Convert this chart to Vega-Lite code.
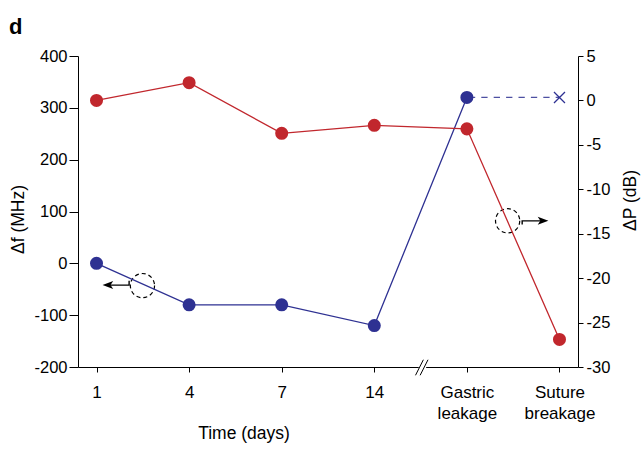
{
  "$schema": "https://vega.github.io/schema/vega-lite/v6.json",
  "width": 500,
  "height": 311,
  "autosize": {"type": "none"},
  "padding": {"left": 78, "top": 56, "right": 66, "bottom": 82},
  "config": {
    "font": "Liberation Sans",
    "view": {"stroke": null},
    "axis": {"grid": false, "domainColor": "#000", "tickColor": "#000", "labelColor": "#000", "titleColor": "#000", "titleFontWeight": "normal", "domainWidth": 1, "tickWidth": 1}
  },
  "title": {"text": "d", "anchor": "start", "frame": "group", "fontSize": 22, "fontWeight": "bold", "color": "#000", "dx": -69, "baseline": "alphabetic", "offset": -8},
  "datasets": {
    "df": [{"x": 0, "v": 0}, {"x": 1, "v": -80}, {"x": 2, "v": -80}, {"x": 3, "v": -120}, {"x": 4, "v": 320}],
    "dfext": [{"x": 4, "v": 320}, {"x": 5, "v": 320}],
    "xmark": [{"x": 5, "v": 320}],
    "dp": [{"x": 0, "v": 0}, {"x": 1, "v": 2}, {"x": 2, "v": -3.7}, {"x": 3, "v": -2.8}, {"x": 4, "v": -3.2}, {"x": 5, "v": -26.9}],
    "circles": [{"x": 0.496, "v": -43}, {"x": 4.44, "v": 82}],
    "arrows": [
      {"g": "a1", "o": 1, "x": 0.352, "v": -33.5}, {"g": "a1", "o": 2, "x": 0.352, "v": -42}, {"g": "a1", "o": 3, "x": 0.12, "v": -42},
      {"g": "a2", "o": 1, "x": 4.597, "v": 75}, {"g": "a2", "o": 2, "x": 4.597, "v": 82}, {"g": "a2", "o": 3, "x": 4.83, "v": 82}
    ],
    "heads": [{"x": 0.065, "v": -42, "dir": "left"}, {"x": 4.88, "v": 82, "dir": "right"}],
    "gap": [{"x": 3.48, "x2": 3.56, "v": -200}],
    "slashes": [{"x": 3.445, "x2": 3.53, "v": -216, "v2": -186}, {"x": 3.495, "x2": 3.58, "v": -216, "v2": -186}]
  },
  "encoding": {
    "x": {
      "field": "x", "type": "quantitative",
      "scale": {"domain": [-0.2, 5.2], "nice": false, "zero": false},
      "axis": {
        "values": [0, 1, 2, 3, 4, 5],
        "labelExpr": "datum.value == 4 ? ['Gastric','leakage'] : datum.value == 5 ? ['Suture','breakage'] : datum.value == 0 ? '1' : datum.value == 1 ? '4' : datum.value == 2 ? '7' : '14'",
        "title": "Time (days)",
        "tickSize": 5, "labelPadding": 12, "labelFontSize": 17, "labelLineHeight": 21,
        "labelOverlap": false, "labelFlush": false, "labelBound": false,
        "titleFontSize": 17.5, "titleX": 165.5, "titleY": 71, "titleBaseline": "alphabetic", "titleAlign": "center"
      }
    }
  },
  "layer": [
    {
      "layer": [
        {
          "data": {"name": "circles"},
          "mark": {"type": "point", "shape": "circle", "filled": false, "stroke": "#000", "strokeWidth": 1.2, "strokeDash": [4, 3], "size": 587, "opacity": 1},
          "encoding": {"y": {"field": "v", "type": "quantitative", "scale": {"domain": [-200, 400], "nice": false, "zero": false}, "axis": {"title": "Δf (MHz)", "orient": "left", "values": [-200, -100, 0, 100, 200, 300, 400], "labelExpr": "datum.value + ''", "tickSize": 9, "labelPadding": 2, "labelFontSize": 16.5, "titleFontSize": 17.5, "titleX": -55, "titleY": 163, "titleAngle": 270, "titleBaseline": "alphabetic", "titleAlign": "center"}}}
        },
        {
          "data": {"name": "arrows"},
          "mark": {"type": "line", "color": "#000", "strokeWidth": 1.4},
          "encoding": {
            "y": {"field": "v", "type": "quantitative", "scale": {"domain": [-200, 400], "nice": false, "zero": false}, "axis": {"title": "Δf (MHz)", "orient": "left", "values": [-200, -100, 0, 100, 200, 300, 400], "labelExpr": "datum.value + ''", "tickSize": 9, "labelPadding": 2, "labelFontSize": 16.5, "titleFontSize": 17.5, "titleX": -55, "titleY": 163, "titleAngle": 270, "titleBaseline": "alphabetic", "titleAlign": "center"}},
            "detail": {"field": "g"},
            "order": {"field": "o", "type": "quantitative"}
          }
        },
        {
          "data": {"name": "heads"},
          "mark": {"type": "point", "filled": true, "color": "#000", "size": 114, "opacity": 1},
          "encoding": {
            "y": {"field": "v", "type": "quantitative", "scale": {"domain": [-200, 400], "nice": false, "zero": false}, "axis": {"title": "Δf (MHz)", "orient": "left", "values": [-200, -100, 0, 100, 200, 300, 400], "labelExpr": "datum.value + ''", "tickSize": 9, "labelPadding": 2, "labelFontSize": 16.5, "titleFontSize": 17.5, "titleX": -55, "titleY": 163, "titleAngle": 270, "titleBaseline": "alphabetic", "titleAlign": "center"}},
            "shape": {"field": "dir", "type": "nominal", "scale": {"domain": ["left", "right"], "range": ["M0,0L2,-0.75L1.5,0L2,0.75Z", "M0,0L-2,-0.75L-1.5,0L-2,0.75Z"]}, "legend": null}
          }
        },
        {
          "data": {"name": "gap"},
          "mark": {"type": "rule", "color": "#fff", "strokeWidth": 3},
          "encoding": {
            "x2": {"field": "x2"},
            "y": {"field": "v", "type": "quantitative", "scale": {"domain": [-200, 400], "nice": false, "zero": false}, "axis": {"title": "Δf (MHz)", "orient": "left", "values": [-200, -100, 0, 100, 200, 300, 400], "labelExpr": "datum.value + ''", "tickSize": 9, "labelPadding": 2, "labelFontSize": 16.5, "titleFontSize": 17.5, "titleX": -55, "titleY": 163, "titleAngle": 270, "titleBaseline": "alphabetic", "titleAlign": "center"}}
          }
        },
        {
          "data": {"name": "slashes"},
          "mark": {"type": "rule", "color": "#000", "strokeWidth": 1},
          "encoding": {
            "x2": {"field": "x2"},
            "y": {"field": "v", "type": "quantitative", "scale": {"domain": [-200, 400], "nice": false, "zero": false}, "axis": {"title": "Δf (MHz)", "orient": "left", "values": [-200, -100, 0, 100, 200, 300, 400], "labelExpr": "datum.value + ''", "tickSize": 9, "labelPadding": 2, "labelFontSize": 16.5, "titleFontSize": 17.5, "titleX": -55, "titleY": 163, "titleAngle": 270, "titleBaseline": "alphabetic", "titleAlign": "center"}},
            "y2": {"field": "v2"}
          }
        },
        {
          "data": {"name": "df"},
          "mark": {"type": "line", "color": "#2e3192", "strokeWidth": 1.3},
          "encoding": {"y": {"field": "v", "type": "quantitative", "scale": {"domain": [-200, 400], "nice": false, "zero": false}, "axis": {"title": "Δf (MHz)", "orient": "left", "values": [-200, -100, 0, 100, 200, 300, 400], "labelExpr": "datum.value + ''", "tickSize": 9, "labelPadding": 2, "labelFontSize": 16.5, "titleFontSize": 17.5, "titleX": -55, "titleY": 163, "titleAngle": 270, "titleBaseline": "alphabetic", "titleAlign": "center"}}}
        },
        {
          "data": {"name": "dfext"},
          "mark": {"type": "line", "color": "#2e3192", "strokeWidth": 1.2, "strokeDash": [6.3, 6.1], "strokeDashOffset": 10.4, "opacity": 0.85},
          "encoding": {"y": {"field": "v", "type": "quantitative", "scale": {"domain": [-200, 400], "nice": false, "zero": false}, "axis": {"title": "Δf (MHz)", "orient": "left", "values": [-200, -100, 0, 100, 200, 300, 400], "labelExpr": "datum.value + ''", "tickSize": 9, "labelPadding": 2, "labelFontSize": 16.5, "titleFontSize": 17.5, "titleX": -55, "titleY": 163, "titleAngle": 270, "titleBaseline": "alphabetic", "titleAlign": "center"}}}
        },
        {
          "data": {"name": "df"},
          "mark": {"type": "circle", "color": "#2e3192", "size": 170, "opacity": 1},
          "encoding": {"y": {"field": "v", "type": "quantitative", "scale": {"domain": [-200, 400], "nice": false, "zero": false}, "axis": {"title": "Δf (MHz)", "orient": "left", "values": [-200, -100, 0, 100, 200, 300, 400], "labelExpr": "datum.value + ''", "tickSize": 9, "labelPadding": 2, "labelFontSize": 16.5, "titleFontSize": 17.5, "titleX": -55, "titleY": 163, "titleAngle": 270, "titleBaseline": "alphabetic", "titleAlign": "center"}}}
        },
        {
          "data": {"name": "xmark"},
          "mark": {"type": "point", "shape": "M-1,-1L1,1M-1,1L1,-1", "filled": false, "stroke": "#2e3192", "strokeWidth": 1.3, "size": 121, "opacity": 1},
          "encoding": {"y": {"field": "v", "type": "quantitative", "scale": {"domain": [-200, 400], "nice": false, "zero": false}, "axis": {"title": "Δf (MHz)", "orient": "left", "values": [-200, -100, 0, 100, 200, 300, 400], "labelExpr": "datum.value + ''", "tickSize": 9, "labelPadding": 2, "labelFontSize": 16.5, "titleFontSize": 17.5, "titleX": -55, "titleY": 163, "titleAngle": 270, "titleBaseline": "alphabetic", "titleAlign": "center"}}}
        }
      ]
    },
    {
      "data": {"name": "dp"},
      "layer": [
        {
          "mark": {"type": "line", "color": "#c1272d", "strokeWidth": 1.3},
          "encoding": {"y": {"field": "v", "type": "quantitative", "scale": {"domain": [-30, 5], "nice": false, "zero": false}, "axis": {"title": "ΔP (dB)", "orient": "right", "values": [-30, -25, -20, -15, -10, -5, 0, 5], "labelExpr": "datum.value + ''", "tickSize": 5, "labelPadding": 3, "labelFontSize": 16.5, "titleFontSize": 17.5, "titleX": 57, "titleY": 144, "titleAngle": 270, "titleBaseline": "alphabetic", "titleAlign": "center"}}}
        },
        {
          "mark": {"type": "circle", "color": "#c1272d", "size": 170, "opacity": 1},
          "encoding": {"y": {"field": "v", "type": "quantitative", "scale": {"domain": [-30, 5], "nice": false, "zero": false}, "axis": {"title": "ΔP (dB)", "orient": "right", "values": [-30, -25, -20, -15, -10, -5, 0, 5], "labelExpr": "datum.value + ''", "tickSize": 5, "labelPadding": 3, "labelFontSize": 16.5, "titleFontSize": 17.5, "titleX": 57, "titleY": 144, "titleAngle": 270, "titleBaseline": "alphabetic", "titleAlign": "center"}}}
        }
      ]
    }
  ],
  "resolve": {"scale": {"y": "independent"}}
}
